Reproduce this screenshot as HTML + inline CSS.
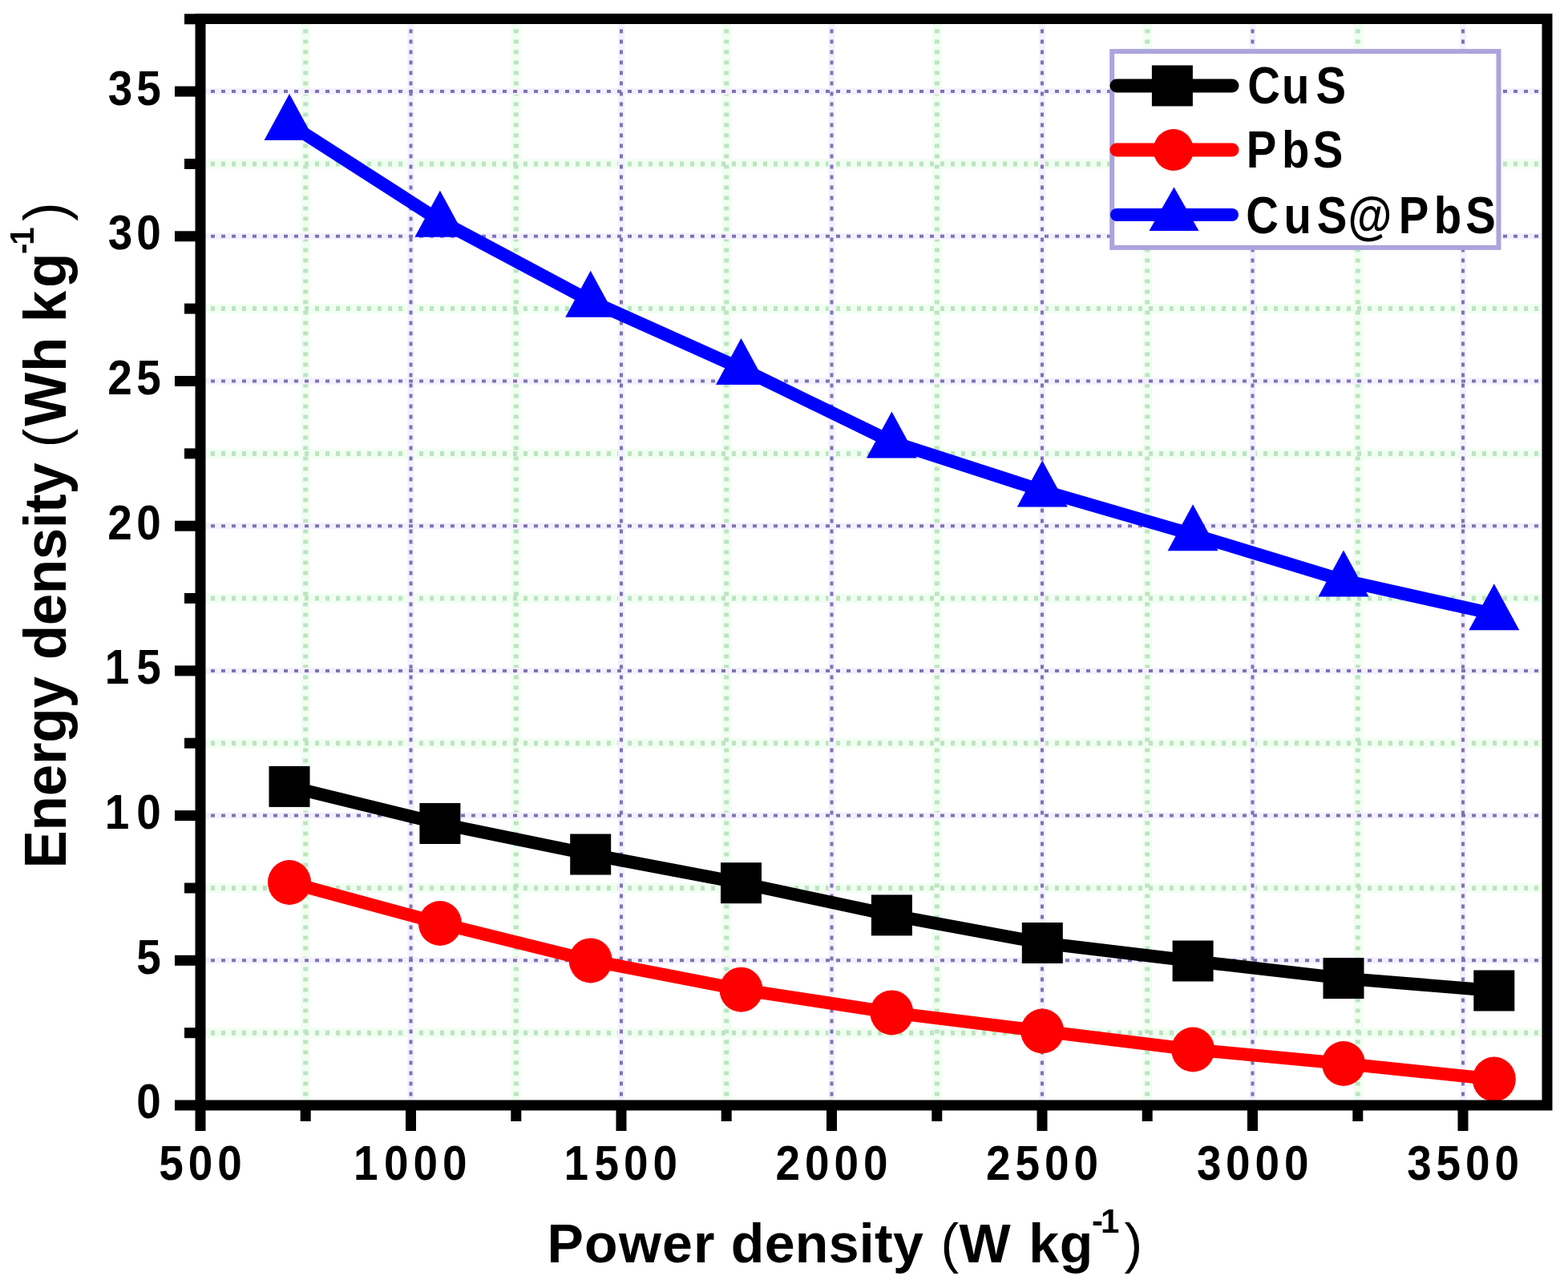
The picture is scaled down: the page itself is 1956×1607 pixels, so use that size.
<!DOCTYPE html>
<html><head><meta charset="utf-8"><title>Energy density vs Power density</title><style>
html,body{margin:0;padding:0;background:#fff;}
body{width:1956px;height:1607px;overflow:hidden;}
svg{display:block;filter:blur(0.7px);}
text{font-family:"Liberation Sans",Arial,sans-serif;font-weight:bold;fill:#000;}
.gminhalo{stroke:#f0fff1;stroke-width:12;}
.gmin{stroke:#bde4c0;stroke-width:6;stroke-dasharray:5 8;}
.gmajhalo{stroke:#f4f0ff;stroke-width:8;}
.gmaj{stroke:#7d74b4;stroke-width:4;stroke-dasharray:5 8;}
</style></head><body>
<svg width="1956" height="1607" viewBox="0 0 1956 1607">
<rect width="1956" height="1607" fill="#fff"/>
<g><line x1="381.2" y1="23.5" x2="381.2" y2="1379" class="gminhalo"/><line x1="643.8" y1="23.5" x2="643.8" y2="1379" class="gminhalo"/><line x1="906.2" y1="23.5" x2="906.2" y2="1379" class="gminhalo"/><line x1="1168.8" y1="23.5" x2="1168.8" y2="1379" class="gminhalo"/><line x1="1431.2" y1="23.5" x2="1431.2" y2="1379" class="gminhalo"/><line x1="1693.8" y1="23.5" x2="1693.8" y2="1379" class="gminhalo"/><line x1="250" y1="1288.7" x2="1930" y2="1288.7" class="gminhalo"/><line x1="250" y1="1108.0" x2="1930" y2="1108.0" class="gminhalo"/><line x1="250" y1="927.2" x2="1930" y2="927.2" class="gminhalo"/><line x1="250" y1="746.5" x2="1930" y2="746.5" class="gminhalo"/><line x1="250" y1="565.9" x2="1930" y2="565.9" class="gminhalo"/><line x1="250" y1="385.1" x2="1930" y2="385.1" class="gminhalo"/><line x1="250" y1="204.5" x2="1930" y2="204.5" class="gminhalo"/><line x1="381.2" y1="23.5" x2="381.2" y2="1379" class="gmin"/><line x1="643.8" y1="23.5" x2="643.8" y2="1379" class="gmin"/><line x1="906.2" y1="23.5" x2="906.2" y2="1379" class="gmin"/><line x1="1168.8" y1="23.5" x2="1168.8" y2="1379" class="gmin"/><line x1="1431.2" y1="23.5" x2="1431.2" y2="1379" class="gmin"/><line x1="1693.8" y1="23.5" x2="1693.8" y2="1379" class="gmin"/><line x1="250" y1="1288.7" x2="1930" y2="1288.7" class="gmin"/><line x1="250" y1="1108.0" x2="1930" y2="1108.0" class="gmin"/><line x1="250" y1="927.2" x2="1930" y2="927.2" class="gmin"/><line x1="250" y1="746.5" x2="1930" y2="746.5" class="gmin"/><line x1="250" y1="565.9" x2="1930" y2="565.9" class="gmin"/><line x1="250" y1="385.1" x2="1930" y2="385.1" class="gmin"/><line x1="250" y1="204.5" x2="1930" y2="204.5" class="gmin"/><line x1="512.5" y1="23.5" x2="512.5" y2="1379" class="gmajhalo"/><line x1="775.0" y1="23.5" x2="775.0" y2="1379" class="gmajhalo"/><line x1="1037.5" y1="23.5" x2="1037.5" y2="1379" class="gmajhalo"/><line x1="1300.0" y1="23.5" x2="1300.0" y2="1379" class="gmajhalo"/><line x1="1562.5" y1="23.5" x2="1562.5" y2="1379" class="gmajhalo"/><line x1="1825.0" y1="23.5" x2="1825.0" y2="1379" class="gmajhalo"/><line x1="250" y1="1198.3" x2="1930" y2="1198.3" class="gmajhalo"/><line x1="250" y1="1017.6" x2="1930" y2="1017.6" class="gmajhalo"/><line x1="250" y1="836.9" x2="1930" y2="836.9" class="gmajhalo"/><line x1="250" y1="656.2" x2="1930" y2="656.2" class="gmajhalo"/><line x1="250" y1="475.5" x2="1930" y2="475.5" class="gmajhalo"/><line x1="250" y1="294.8" x2="1930" y2="294.8" class="gmajhalo"/><line x1="250" y1="114.1" x2="1930" y2="114.1" class="gmajhalo"/><line x1="512.5" y1="23.5" x2="512.5" y2="1379" class="gmaj"/><line x1="775.0" y1="23.5" x2="775.0" y2="1379" class="gmaj"/><line x1="1037.5" y1="23.5" x2="1037.5" y2="1379" class="gmaj"/><line x1="1300.0" y1="23.5" x2="1300.0" y2="1379" class="gmaj"/><line x1="1562.5" y1="23.5" x2="1562.5" y2="1379" class="gmaj"/><line x1="1825.0" y1="23.5" x2="1825.0" y2="1379" class="gmaj"/><line x1="250" y1="1198.3" x2="1930" y2="1198.3" class="gmaj"/><line x1="250" y1="1017.6" x2="1930" y2="1017.6" class="gmaj"/><line x1="250" y1="836.9" x2="1930" y2="836.9" class="gmaj"/><line x1="250" y1="656.2" x2="1930" y2="656.2" class="gmaj"/><line x1="250" y1="475.5" x2="1930" y2="475.5" class="gmaj"/><line x1="250" y1="294.8" x2="1930" y2="294.8" class="gmaj"/><line x1="250" y1="114.1" x2="1930" y2="114.1" class="gmaj"/></g>
<polyline points="361.0,981.4 548.9,1027.5 736.7,1066.0 924.5,1101.7 1112.4,1141.9 1300.2,1176.5 1488.1,1199.0 1676.0,1220.6 1863.8,1236.0" fill="none" stroke="#000" stroke-width="16" stroke-linejoin="round"/>
<polyline points="361.0,1101.0 548.9,1152.0 736.7,1198.4 924.5,1234.7 1112.4,1263.4 1300.2,1286.5 1488.1,1309.5 1676.0,1327.0 1863.8,1346.5" fill="none" stroke="#f00" stroke-width="16" stroke-linejoin="round"/>
<polyline points="361.0,154.8 548.9,275.4 736.7,375.5 924.5,459.8 1112.4,551.3 1300.2,612.2 1488.1,666.9 1676.0,724.1 1863.8,766.0" fill="none" stroke="#00f" stroke-width="16" stroke-linejoin="round"/>
<rect x="335.5" y="955.9" width="51" height="51" fill="#000"/>
<rect x="523.4" y="1002.0" width="51" height="51" fill="#000"/>
<rect x="711.2" y="1040.5" width="51" height="51" fill="#000"/>
<rect x="899.0" y="1076.2" width="51" height="51" fill="#000"/>
<rect x="1086.9" y="1116.4" width="51" height="51" fill="#000"/>
<rect x="1274.8" y="1151.0" width="51" height="51" fill="#000"/>
<rect x="1462.6" y="1173.5" width="51" height="51" fill="#000"/>
<rect x="1650.5" y="1195.1" width="51" height="51" fill="#000"/>
<rect x="1838.3" y="1210.5" width="51" height="51" fill="#000"/>
<ellipse cx="361.0" cy="1101.0" rx="27" ry="28" fill="#f00"/>
<ellipse cx="548.9" cy="1152.0" rx="27" ry="28" fill="#f00"/>
<ellipse cx="736.7" cy="1198.4" rx="27" ry="28" fill="#f00"/>
<ellipse cx="924.5" cy="1234.7" rx="27" ry="28" fill="#f00"/>
<ellipse cx="1112.4" cy="1263.4" rx="27" ry="28" fill="#f00"/>
<ellipse cx="1300.2" cy="1286.5" rx="27" ry="28" fill="#f00"/>
<ellipse cx="1488.1" cy="1309.5" rx="27" ry="28" fill="#f00"/>
<ellipse cx="1676.0" cy="1327.0" rx="27" ry="28" fill="#f00"/>
<ellipse cx="1863.8" cy="1346.5" rx="27" ry="28" fill="#f00"/>
<polygon points="361.0,117.1 392.5,175.1 329.5,175.1" fill="#00f"/>
<polygon points="548.9,237.7 580.4,295.7 517.4,295.7" fill="#00f"/>
<polygon points="736.7,337.8 768.2,395.8 705.2,395.8" fill="#00f"/>
<polygon points="924.5,422.1 956.0,480.1 893.0,480.1" fill="#00f"/>
<polygon points="1112.4,513.6 1143.9,571.6 1080.9,571.6" fill="#00f"/>
<polygon points="1300.2,574.5 1331.8,632.5 1268.8,632.5" fill="#00f"/>
<polygon points="1488.1,629.2 1519.6,687.2 1456.6,687.2" fill="#00f"/>
<polygon points="1676.0,686.4 1707.5,744.4 1644.5,744.4" fill="#00f"/>
<polygon points="1863.8,728.3 1895.3,786.3 1832.3,786.3" fill="#00f"/>
<rect x="250" y="23.5" width="1680" height="1355.5" fill="none" stroke="#000" stroke-width="13"/>
<g stroke="#000" stroke-width="13"><line x1="250.0" y1="1379" x2="250.0" y2="1411" /><line x1="512.5" y1="1379" x2="512.5" y2="1411" /><line x1="775.0" y1="1379" x2="775.0" y2="1411" /><line x1="1037.5" y1="1379" x2="1037.5" y2="1411" /><line x1="1300.0" y1="1379" x2="1300.0" y2="1411" /><line x1="1562.5" y1="1379" x2="1562.5" y2="1411" /><line x1="1825.0" y1="1379" x2="1825.0" y2="1411" /><line x1="381.2" y1="1379" x2="381.2" y2="1399" /><line x1="643.8" y1="1379" x2="643.8" y2="1399" /><line x1="906.2" y1="1379" x2="906.2" y2="1399" /><line x1="1168.8" y1="1379" x2="1168.8" y2="1399" /><line x1="1431.2" y1="1379" x2="1431.2" y2="1399" /><line x1="1693.8" y1="1379" x2="1693.8" y2="1399" /><line x1="250" y1="1379.0" x2="218" y2="1379.0" /><line x1="250" y1="1198.3" x2="218" y2="1198.3" /><line x1="250" y1="1017.6" x2="218" y2="1017.6" /><line x1="250" y1="836.9" x2="218" y2="836.9" /><line x1="250" y1="656.2" x2="218" y2="656.2" /><line x1="250" y1="475.5" x2="218" y2="475.5" /><line x1="250" y1="294.8" x2="218" y2="294.8" /><line x1="250" y1="114.1" x2="218" y2="114.1" /><line x1="250" y1="1288.7" x2="230" y2="1288.7" /><line x1="250" y1="1108.0" x2="230" y2="1108.0" /><line x1="250" y1="927.2" x2="230" y2="927.2" /><line x1="250" y1="746.5" x2="230" y2="746.5" /><line x1="250" y1="565.9" x2="230" y2="565.9" /><line x1="250" y1="385.1" x2="230" y2="385.1" /><line x1="250" y1="204.5" x2="230" y2="204.5" /><line x1="250" y1="23.8" x2="230" y2="23.8" /></g>
<g><text x="220.2 260.8 301.3" y="1472.5" transform="scale(0.9,1)" style="font-size:61px">500</text><text x="489.9 532.2 572.7 613.3" y="1472.5" transform="scale(0.9,1)" style="font-size:61px">1000</text><text x="781.6 823.8 864.4 904.9" y="1472.5" transform="scale(0.9,1)" style="font-size:61px">1500</text><text x="1074.9 1115.5 1156.1 1196.6" y="1472.5" transform="scale(0.9,1)" style="font-size:61px">2000</text><text x="1366.6 1407.2 1447.7 1488.3" y="1472.5" transform="scale(0.9,1)" style="font-size:61px">2500</text><text x="1658.8 1698.8 1739.4 1779.9" y="1472.5" transform="scale(0.9,1)" style="font-size:61px">3000</text><text x="1950.4 1990.5 2031.1 2071.6" y="1472.5" transform="scale(0.9,1)" style="font-size:61px">3500</text><text x="189.1" y="1395.5" transform="scale(0.9,1)" style="font-size:61px">0</text><text x="189.1" y="1214.8" transform="scale(0.9,1)" style="font-size:61px">5</text><text x="145.2 189.1" y="1034.1" transform="scale(0.9,1)" style="font-size:61px">10</text><text x="145.2 189.1" y="853.4" transform="scale(0.9,1)" style="font-size:61px">15</text><text x="149.1 189.1" y="672.7" transform="scale(0.9,1)" style="font-size:61px">20</text><text x="149.1 189.1" y="492.0" transform="scale(0.9,1)" style="font-size:61px">25</text><text x="149.6 189.1" y="311.3" transform="scale(0.9,1)" style="font-size:61px">30</text><text x="149.6 189.1" y="130.6" transform="scale(0.9,1)" style="font-size:61px">35</text></g>
<g><text x="682.5" y="1574.7" style="font-size:68px;letter-spacing:1.25px;">Power</text><text x="911.8" y="1574.7" style="font-size:68px;letter-spacing:0.32px;">density</text><text x="1173.6" y="1574.7" style="font-size:68px;font-weight:normal;">(</text><text x="1196.5" y="1574.7" style="font-size:68px;">W</text><text x="1283.3" y="1574.7" style="font-size:68px;letter-spacing:0.70px;">kg</text><text x="1362.0" y="1538" style="font-size:42px;letter-spacing:-3.00px;">-1</text><text x="1402.5" y="1574.7" style="font-size:68px;font-weight:normal;">)</text></g>
<g transform="translate(81.6,0) rotate(-90) scale(1,1.05)"><text x="-1083.5" y="0" style="font-size:71px;letter-spacing:-0.24px;">Energy</text><text x="-823.3" y="0" style="font-size:71px;letter-spacing:-0.40px;">density</text><text x="-558.4" y="0" style="font-size:71px;font-weight:normal;">(</text><text x="-531.8" y="0" style="font-size:71px;letter-spacing:0.80px;">Wh</text><text x="-402.2" y="0" style="font-size:71px;letter-spacing:3.60px;">kg</text><text x="-317.0" y="-37.9" style="font-size:40px;letter-spacing:-2.00px;">-1</text><text x="-276.0" y="0" style="font-size:71px;font-weight:normal;">)</text></g>
<rect x="1387.2" y="64.1" width="482.3" height="244.8" fill="#fff" stroke="#aca4dc" stroke-width="6"/>
<line x1="1393" y1="107" x2="1537" y2="107" stroke="#000" stroke-width="17" stroke-linecap="round"/>
<rect x="1436.9" y="81.5" width="51" height="51" fill="#000"/>
<line x1="1393" y1="187" x2="1537" y2="187" stroke="#f00" stroke-width="17" stroke-linecap="round"/>
<ellipse cx="1463.8" cy="187" rx="25" ry="26" fill="#f00"/>
<line x1="1393" y1="268" x2="1537" y2="268" stroke="#00f" stroke-width="16" stroke-linecap="round"/>
<polygon points="1464.5,233.4 1495.5,288 1433.5,288" fill="#00f"/>
<g><text x="1768.4 1817.1 1865.3" y="129.0" transform="scale(0.88,1)" style="font-size:64px">CuS</text><text x="1766.8 1817.1 1861.2" y="209.0" transform="scale(0.88,1)" style="font-size:64px">PbS</text><text x="1766.1 1819.8 1866.8 1910.8 1982.7 2032.6 2077.7" y="290.6" transform="scale(0.88,1)" style="font-size:64px">CuS@PbS</text></g>
</svg>
</body></html>
